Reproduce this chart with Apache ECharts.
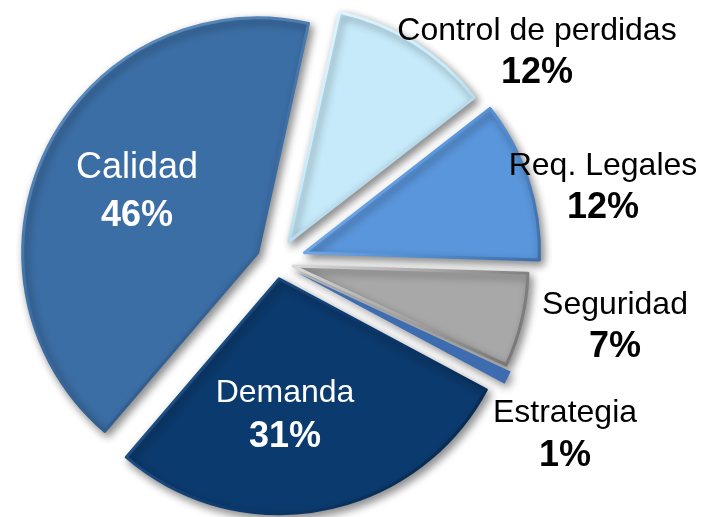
<!DOCTYPE html>
<html>
<head>
<meta charset="utf-8">
<script src="https://cdn.jsdelivr.net/npm/echarts@6/dist/echarts.min.js"></script>
<style>
html,body{margin:0;padding:0;background:#fff;}
#chart{width:701px;height:517px;}
</style>
</head>
<body>
<div id="chart"></div>
<script>
// ---- data ----
const categories = ['Control de perdidas', 'Req. Legales', 'Seguridad', 'Estrategia', 'Demanda', 'Calidad'];
const values = [12, 12, 7, 1, 31, 46];
const percentLabels = ['12%', '12%', '7%', '1%', '31%', '46%'];

// ---- styles ----
const sliceColors = ['#C6EAFA', '#5A96DC', '#A8A8A8', '#3D6CB0', '#0B3A6E', '#3B6EA5'];
const edgeLight = ['#E6F7FF', '#8DBBEE', '#DADADA', '#6E97CF', '#2E5D93', '#6C98C8'];
const edgeDark = ['#8DA9B8', '#3C6EA8', '#707070', '#284E85', '#062548', '#284E7A'];
const explode = [24, 30, 17.5, 24, 17, 20.5];
const labelColors = ['#000', '#000', '#000', '#000', '#fff', '#fff'];
const nameSizes = [32, 32, 32, 32, 32, 36];
const lineGap = [42, 42, 42, 43, 44, 48];
const labelAnchors = [[537, 52], [603, 187], [615, 326], [565, 435], [285, 415], [137, 192]];
const FONT = 'Liberation Sans, Arial, sans-serif';

const chart = echarts.init(document.getElementById('chart'), null, {renderer: 'canvas'});

function edgeGradient(i) {
  return new echarts.graphic.LinearGradient(0, 0, 1, 1, [
    {offset: 0, color: edgeLight[i]},
    {offset: 0.5, color: sliceColors[i]},
    {offset: 1, color: edgeDark[i]}
  ]);
}

const series = categories.map((cat, i) => ({
  type: 'pie',
  center: [276, 262],
  radius: 235,
  startAngle: 77.5,
  clockwise: true,
  avoidLabelOverlap: false,
  selectedMode: 'multiple',
  selectedOffset: explode[i],
  animation: false,
  silent: true,
  label: {show: false},
  labelLine: {show: false},
  data: values.map((v, j) => ({
    name: categories[j],
    value: v,
    selected: j === i,
    itemStyle: j === i ? {
      color: sliceColors[j],
      borderColor: edgeGradient(j),
      borderWidth: j === 3 ? 0 : 3,
      borderJoin: 'round',
      shadowBlur: 8,
      shadowOffsetX: 3,
      shadowOffsetY: 4,
      shadowColor: 'rgba(0,0,0,0.45)'
    } : {color: 'rgba(0,0,0,0)', borderWidth: 0}
  }))
}));

// slice labels (name + percentage) as text
const labelGraphics = [];
categories.forEach((cat, i) => {
  const a = labelAnchors[i];
  labelGraphics.push({
    type: 'text', x: a[0], y: a[1] - lineGap[i] / 2, silent: true, z: 100,
    style: {text: cat, fill: labelColors[i], font: nameSizes[i] + 'px ' + FONT, align: 'center', verticalAlign: 'middle'}
  });
  labelGraphics.push({
    type: 'text', x: a[0], y: a[1] + lineGap[i] / 2, silent: true, z: 100,
    style: {text: percentLabels[i], fill: labelColors[i], font: 'bold 36px ' + FONT, align: 'center', verticalAlign: 'middle'}
  });
});

chart.setOption({
  backgroundColor: '#ffffff',
  series: series,
  graphic: labelGraphics
});
</script>
</body>
</html>
